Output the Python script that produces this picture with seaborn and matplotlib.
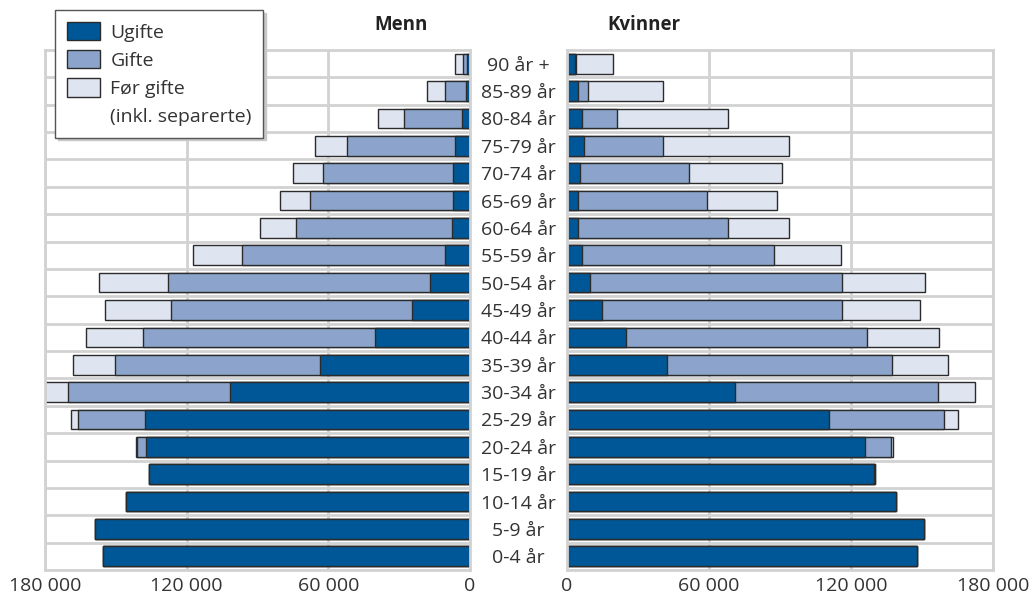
import numpy as np
import pandas as pd
import matplotlib
matplotlib.use("Agg")
import matplotlib.pyplot as plt
from matplotlib.patches import Patch
import seaborn as sns

# Aldersgrupper, øverst til nederst
ages = ["90 år +", "85-89 år", "80-84 år", "75-79 år", "70-74 år", "65-69 år",
        "60-64 år", "55-59 år", "50-54 år", "45-49 år", "40-44 år", "35-39 år",
        "30-34 år", "25-29 år", "20-24 år", "15-19 år", "10-14 år", "5-9 år", "0-4 år"]

# Menn
menn_ugifte = [1100, 1800, 3500, 6200, 7000, 7300, 7600, 10400, 16900, 24400,
               40400, 63400, 101600, 137500, 137100, 135800, 145600, 158800, 155400]
menn_gifte = [1700, 9000, 24300, 45700, 55300, 60300, 66300, 86000, 110800, 102200,
              98000, 87000, 68500, 28500, 4100, 300, 0, 0, 0]
menn_for = [3500, 7500, 11000, 13700, 12700, 12800, 15100, 20900, 29600, 28200,
            24300, 17600, 9700, 2800, 400, 0, 0, 0, 0]

# Kvinner
kvinner_ugifte = [3300, 4500, 6200, 7100, 5600, 4600, 4500, 6400, 9800, 14600,
                  25100, 42300, 71000, 110700, 125900, 129700, 138900, 151000, 147900]
kvinner_gifte = [450, 4300, 15000, 33600, 45900, 54400, 63400, 80900, 106300, 101400,
                 101700, 94900, 85700, 48700, 11000, 300, 0, 0, 0]
kvinner_for = [15500, 31600, 47000, 52900, 39500, 29800, 25900, 28500, 35200, 33200,
               30400, 23600, 15700, 5600, 900, 0, 0, 0, 0]

xticks = [0, 60000, 120000, 180000]
series_names = ["Ugifte", "Gifte", "Før gifte", "(inkl. separerte)"]
colors = ["#005797", "#8ca4cc", "#dee4f0"]

sns.set_style("white")
plt.rcParams["font.family"] = ["Open Sans", "DejaVu Sans"]
grid_col = "#d2d2d2"
edge_col = "#2b2b2b"
text_col = "#333333"

fig = plt.figure(figsize=(10.32, 5.96), dpi=100)
ax_m = fig.add_axes([45 / 1032, 26 / 596, 425 / 1032, 520 / 596])
ax_k = fig.add_axes([567 / 1032, 26 / 596, 426 / 1032, 520 / 596])


def draw_side(ax, ugifte, gifte, for_gifte):
    df = pd.DataFrame({"alder": ages, "ugifte": ugifte, "gifte": gifte, "for": for_gifte})
    df["u_g"] = df["ugifte"] + df["gifte"]
    df["total"] = df["u_g"] + df["for"]
    # stablet: tegn totalen først, så ugifte+gifte, så ugifte oppå
    for col, c in [("total", colors[2]), ("u_g", colors[1]), ("ugifte", colors[0])]:
        sns.barplot(data=df, x=col, y="alder", order=ages, orient="h", color=c,
                    saturation=1, width=0.72, edgecolor=edge_col, linewidth=1,
                    ax=ax)
    ax.set_xlabel("")
    ax.set_ylabel("")
    ax.set_xticks(xticks)
    ax.set_xticklabels([f"{v:,}".replace(",", " ") for v in xticks])
    ax.set_yticks(np.arange(len(ages)) + 0.5, minor=True)
    ax.set_axisbelow(True)
    ax.grid(axis="x", which="major", color=grid_col, linewidth=2)
    ax.grid(axis="y", which="minor", color=grid_col, linewidth=2)
    ax.grid(axis="y", which="major", visible=False)
    for s in ax.spines.values():
        s.set_color(grid_col)
        s.set_linewidth(2)
    ax.tick_params(axis="both", which="both", length=0, labelsize=14,
                   labelcolor=text_col)
    ax.tick_params(axis="x", pad=5)


draw_side(ax_m, menn_ugifte, menn_gifte, menn_for)
ax_m.set_xlim(180000, 0)
ax_m.set_yticklabels([])

draw_side(ax_k, kvinner_ugifte, kvinner_gifte, kvinner_for)
ax_k.set_xlim(0, 180000)
ax_k.set_yticks(range(len(ages)))
ax_k.set_yticklabels(ages)
ax_k.tick_params(axis="y", pad=35)
for lab in ax_k.get_yticklabels():
    lab.set_horizontalalignment("center")

fig.text(401 / 1032, 1 - 25 / 596, "Menn", ha="center", va="center",
         fontsize=13.5, fontweight="bold", color="#222222")
fig.text(644 / 1032, 1 - 25 / 596, "Kvinner", ha="center", va="center",
         fontsize=13.5, fontweight="bold", color="#222222")

handles = [Patch(facecolor=c, edgecolor=edge_col, linewidth=1) for c in colors]
handles.append(Patch(facecolor="none", edgecolor="none"))
leg = fig.legend(handles, series_names, loc="upper left",
                 bbox_to_anchor=(55 / 1032, 1 - 10 / 596), fontsize=14,
                 frameon=True, fancybox=False, framealpha=1, edgecolor="#555555",
                 shadow={"color": "#c8c8c8", "alpha": 1},
                 handlelength=1.7, handleheight=1.1, handletextpad=0.55,
                 labelspacing=0.42, borderpad=0.6, borderaxespad=0)
leg.get_frame().set_linewidth(1)
for t in leg.get_texts():
    t.set_color(text_col)

fig.savefig("out.png", dpi=100)
